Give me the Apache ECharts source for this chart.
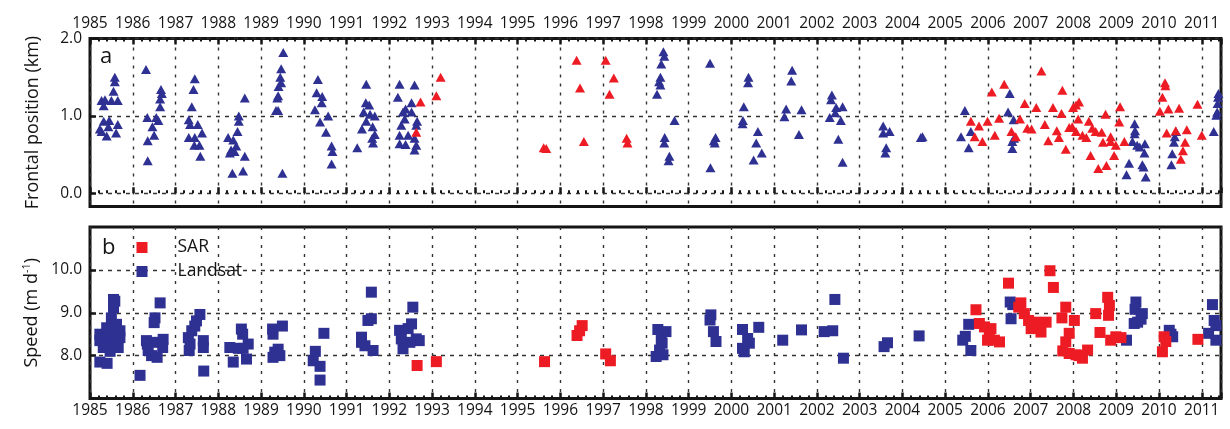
<!DOCTYPE html>
<html><head><meta charset="utf-8">
<script src="https://cdn.jsdelivr.net/npm/echarts@6/dist/echarts.min.js"></script>
<style>html,body{margin:0;padding:0;background:#fff}#c{width:1230px;height:429px}</style>
</head><body><div id="c"></div>
<script>
// ---- data ----
const yearMin = 1985;
const yearMax = 2011.45;
const frontTickValues = [0, 1, 2];
const speedTickValues = [8, 9, 10];

const frontLandsat = [
 [1985.27,1.20],[1985.35,1.21],[1985.32,1.13],[1985.55,1.32],[1985.58,1.50],[1985.58,1.44],[1985.5,1.20],[1985.65,1.20],
 [1985.32,0.93],[1985.45,0.94],[1985.23,0.83],[1985.27,0.80],[1985.43,0.86],[1985.39,0.74],[1985.61,0.78],[1985.65,0.89],
 [1986.31,1.60],[1986.66,1.34],[1986.68,1.29],[1986.64,1.22],[1986.64,1.12],[1986.34,0.98],[1986.55,0.98],[1986.46,0.86],
 [1986.5,0.75],[1986.35,0.68],[1986.35,0.42],[1986.6,0.94],
 [1987.45,1.48],[1987.42,1.34],[1987.38,1.12],[1987.31,0.95],[1987.34,0.89],[1987.52,0.89],[1987.31,0.72],[1987.45,0.72],
 [1987.62,0.78],[1987.56,0.62],[1987.44,0.62],[1987.58,0.48],
 [1988.23,0.72],[1988.35,0.69],[1988.42,0.61],[1988.3,0.56],[1988.27,0.52],[1988.38,0.54],[1988.48,1.0],[1988.48,0.93],
 [1988.45,0.80],[1988.62,1.23],[1988.62,0.48],[1988.33,0.26],[1988.58,0.29],
 [1989.52,1.82],[1989.47,1.61],[1989.45,1.50],[1989.47,1.43],[1989.41,1.38],[1989.4,1.26],[1989.38,1.23],[1989.35,1.07],
 [1989.4,1.07],[1989.5,0.26],
 [1990.33,1.47],[1990.30,1.30],[1990.43,1.25],[1990.42,1.17],[1990.26,1.08],[1990.57,1.00],[1990.38,0.92],[1990.52,0.79],
 [1990.65,0.61],[1990.67,0.54],[1990.65,0.38],
 [1991.46,1.41],[1991.45,1.17],[1991.53,1.14],[1991.4,1.05],[1991.55,1.02],[1991.66,1.0],[1991.46,0.93],[1991.61,0.86],
 [1991.36,0.83],[1991.66,0.76],[1991.6,0.71],[1991.62,0.65],[1991.25,0.59],
 [1992.24,1.41],[1992.59,1.40],[1992.2,1.24],[1992.52,1.17],[1992.38,1.09],[1992.32,1.05],[1992.52,1.05],[1992.36,0.96],
 [1992.65,0.93],[1992.28,0.88],[1992.63,0.88],[1992.24,0.75],[1992.44,0.75],[1992.24,0.64],[1992.38,0.63],[1992.59,0.71],
 [1992.63,0.62],[1992.59,0.56],
 [1998.41,1.83],[1998.43,1.77],[1998.36,1.67],[1998.34,1.50],[1998.31,1.44],[1998.34,1.40],[1998.26,1.28],[1998.67,0.94],
 [1998.44,0.72],[1998.43,0.65],[1998.55,0.48],[1998.53,0.42],
 [1999.5,1.68],[1999.63,0.72],[1999.59,0.68],[1999.61,0.65],[1999.51,0.33],
 [2000.4,1.50],[2000.39,1.43],[2000.29,1.12],[2000.27,0.94],[2000.26,0.90],[2000.62,0.80],[2000.58,0.65],[2000.71,0.52],[2000.52,0.43],
 [2001.42,1.59],[2001.40,1.45],[2001.28,1.09],[2001.24,0.99],[2001.64,1.08],[2001.58,0.76],
 [2002.35,1.27],[2002.33,1.21],[2002.45,1.11],[2002.6,1.12],[2002.43,1.04],[2002.3,0.98],[2002.56,0.94],[2002.5,0.70],[2002.6,0.40],
 [2003.55,0.87],[2003.55,0.78],[2003.7,0.80],[2003.62,0.59],[2003.6,0.52],
 [2004.43,0.72],[2004.47,0.73],
 [2005.46,1.07],[2005.37,0.73],[2005.6,0.80],[2005.55,0.59],
 [2006.51,1.29],[2006.47,1.05],[2006.6,0.95],[2006.61,0.71],[2006.57,0.67],[2006.57,0.58],
 [2009.43,0.90],[2009.44,0.81],[2009.43,0.77],[2009.38,0.67],[2009.49,0.62],[2009.67,0.64],[2009.66,0.52],[2009.3,0.39],
 [2009.24,0.24],[2009.61,0.37],[2009.64,0.34],[2009.69,0.21],[2009.55,0.60],
 [2010.40,0.80],[2010.37,0.73],[2010.35,0.66],[2010.31,0.51],[2010.29,0.37],
 [2011.28,0.80],[2011.34,1.01],[2011.36,1.05],[2011.37,1.16],[2011.38,1.24],[2011.39,1.29]
];

const frontSAR = [
 [1992.73,1.18],[1992.63,0.79],
 [1993.2,1.50],[1993.1,1.26],
 [1995.61,0.59],[1995.67,0.58],
 [1996.38,1.72],[1996.46,1.36],[1996.55,0.67],
 [1997.06,1.72],[1997.25,1.49],[1997.15,1.28],[1997.55,0.71],[1997.57,0.65],
 [2005.6,0.93],[2005.79,0.87],[2005.69,0.73],[2005.87,0.67],[2005.99,0.93],
 [2006.09,1.31],[2006.38,1.41],[2006.26,0.97],[2006.16,0.75],[2006.55,0.80],[2006.65,0.73],[2006.75,0.96],
 [2006.86,1.16],[2007.13,1.11],[2007.25,1.58],[2006.92,0.84],[2007.02,0.83],[2007.33,0.89],[2007.41,0.68],[2007.52,1.11],
 [2007.61,0.81],[2007.66,0.72],[2007.72,1.03],[2007.74,1.33],[2007.82,0.57],[2007.9,0.85],
 [2007.99,1.11],[2008.13,1.18],[2008.06,1.14],[2007.97,0.86],[2008.06,0.80],[2008.11,0.96],[2008.21,0.75],[2008.3,0.72],
 [2008.36,0.93],[2008.44,0.84],[2008.52,0.80],[2008.4,0.49],[2008.58,0.32],[2008.77,0.36],[2008.66,0.79],[2008.75,1.02],
 [2008.69,0.66],[2008.87,0.73],[2008.87,0.67],[2008.95,0.49],[2008.99,0.62],[2009.07,0.92],[2009.09,1.12],[2009.19,0.67],
 [2010.14,1.43],[2010.15,1.39],[2010.08,1.24],[2010.02,1.06],[2010.22,1.09],[2010.47,1.10],[2010.18,0.78],[2010.39,0.81],
 [2010.65,0.82],[2010.61,0.66],[2010.56,0.55],[2010.51,0.44],
 [2010.9,1.15],[2011.0,0.75]
];

const speedLandsat = [
 [1985.23,7.85],[1985.4,7.82],[1985.55,9.31],[1985.58,9.27],[1985.55,9.12],[1985.5,8.88],[1985.23,8.5],[1985.23,8.35],
 [1985.31,8.19],[1985.39,8.65],[1985.47,8.42],[1985.58,8.58],[1985.66,8.19],[1985.7,8.42],[1985.39,8.31],[1985.55,8.27],
 [1985.62,8.73],[1985.7,8.58],[1985.47,8.1],
 [1986.64,9.23],[1986.52,8.88],[1986.5,8.77],[1986.32,8.35],[1986.34,8.27],[1986.56,8.31],[1986.71,8.38],[1986.7,8.19],
 [1986.36,8.12],[1986.57,7.96],[1986.17,7.54],[1986.44,8.0],
 [1987.57,8.96],[1987.49,8.81],[1987.45,8.69],[1987.38,8.58],[1987.3,8.42],[1987.34,8.27],[1987.32,8.12],[1987.65,8.35],
 [1987.65,8.19],[1987.66,7.64],
 [1988.27,8.19],[1988.35,7.85],[1988.47,8.17],[1988.54,8.62],[1988.57,8.5],[1988.7,8.27],[1988.66,7.92],[1988.58,8.17],
 [1989.27,8.62],[1989.28,8.5],[1989.5,8.69],[1989.4,8.15],[1989.28,7.96],[1989.44,8.0],[1989.32,8.08],
 [1990.22,7.88],[1990.27,8.1],[1990.47,8.52],[1990.38,7.75],[1990.38,7.43],
 [1991.58,9.48],[1991.5,8.82],[1991.58,8.86],[1991.35,8.43],[1991.43,8.23],[1991.62,8.12],[1991.35,8.31],
 [1992.55,9.13],[1992.52,8.74],[1992.44,8.63],[1992.24,8.59],[1992.28,8.39],[1992.32,8.16],[1992.63,8.39],[1992.7,8.35],[1992.48,8.31],
 [1998.28,8.61],[1998.47,8.56],[1998.36,8.36],[1998.38,8.29],[1998.32,8.13],[1998.24,7.98],[1998.4,8.02],
 [1999.52,8.95],[1999.5,8.83],[1999.58,8.56],[1999.64,8.33],
 [2000.26,8.61],[2000.26,8.17],[2000.38,8.4],[2000.42,8.29],[2000.3,8.09],[2000.64,8.66],
 [2001.2,8.36],[2001.64,8.6],
 [2002.17,8.56],[2002.37,8.58],[2002.42,9.31],[2002.62,7.94],
 [2003.57,8.21],[2003.65,8.3],
 [2004.39,8.46],
 [2005.41,8.36],[2005.55,8.73],[2005.6,8.12],[2005.47,8.45],
 [2006.52,9.25],[2006.54,8.86],[2006.58,9.19],
 [2009.24,8.36],[2009.46,9.25],[2009.44,9.08],[2009.61,8.98],[2009.5,8.78],[2009.42,8.75],[2009.58,8.85],
 [2010.24,8.59],[2010.32,8.44],[2010.28,8.5],
 [2011.25,9.19],[2011.29,8.82],[2011.33,8.7],[2011.16,8.52],[2011.33,8.36]
];

const speedSAR = [
 [1992.65,7.77],[1993.1,7.86],[1995.63,7.86],[1996.39,8.47],[1996.51,8.7],[1996.45,8.58],[1997.06,8.04],[1997.17,7.88],
 [2005.72,9.07],[2005.8,8.75],[2005.92,8.67],[2006.07,8.63],[2005.99,8.36],[2006.15,8.36],[2006.27,8.32],[2006.03,8.48],[2006.48,9.69],
 [2006.77,9.23],[2006.72,9.13],[2006.85,8.98],[2006.95,8.82],[2007.01,8.63],[2007.12,8.78],[2007.24,8.55],[2007.36,8.78],
 [2007.04,8.75],[2007.45,9.98],[2007.53,9.59],[2007.73,8.88],[2007.82,9.13],[2008.02,8.82],[2007.9,8.52],[2007.82,8.32],
 [2007.75,8.11],[2007.9,8.05],[2008.06,8.02],[2008.21,7.94],[2008.33,8.13],[2008.13,8.0],[2008.52,8.98],[2008.62,8.54],
 [2008.8,9.36],[2008.84,9.17],[2008.82,8.94],[2008.87,8.36],[2008.99,8.44],[2009.11,8.42],
 [2010.08,8.09],[2010.12,8.44],[2010.16,8.33],
 [2010.91,8.38]
];

// ---- style ----
const BLUE = '#2e3192', RED = '#ed1c24', INK = '#151515', GRIDC = '#333333';
const FONT = 'Open Sans';

const tickStyle = {show:true, inside:true, length:6, lineStyle:{color:INK, width:2.5}};
const minorStyle = {show:true, splitNumber:5, length:3, lineStyle:{color:INK, width:2}};
const vSplit = {show:true, lineStyle:{color:GRIDC, width:1.4, type:[3,6]}};
const hSplit = {show:true, lineStyle:{color:GRIDC, width:1.4, type:[4,5]}};
const yearLabel = (m) => ({show:true, margin:m, fontFamily:FONT, fontSize:15.5, color:INK,
  formatter: v => Number.isInteger(v) ? String(v) : ''});

const chart = echarts.init(document.getElementById('c'), null, {renderer:'canvas'});
chart.setOption({
  animation:false,
  backgroundColor:'#fff',
  grid:[
    {left:90, top:38.5, width:1131, height:168, show:true, borderColor:INK, borderWidth:3, backgroundColor:'transparent', containLabel:false},
    {left:90, top:227, width:1131, height:171.5, show:true, borderColor:INK, borderWidth:3, backgroundColor:'transparent', containLabel:false}
  ],
  xAxis:[
    {gridIndex:0, type:'value', min:yearMin, max:yearMax, interval:1, position:'bottom',
     axisLine:{show:false}, axisTick:tickStyle, minorTick:minorStyle, axisLabel:{show:false}, splitLine:vSplit},
    {gridIndex:0, type:'value', min:yearMin, max:yearMax, interval:1, position:'top',
     axisLine:{show:false}, axisTick:tickStyle, minorTick:minorStyle, axisLabel:yearLabel(7), splitLine:{show:false}},
    {gridIndex:1, type:'value', min:yearMin, max:yearMax, interval:1, position:'bottom',
     axisLine:{show:false}, axisTick:tickStyle, minorTick:minorStyle, axisLabel:yearLabel(4), splitLine:vSplit}
  ],
  yAxis:[
    {gridIndex:0, type:'value', min:-0.17, max:2.0,
     axisLine:{show:false},
     axisTick:{show:true, inside:true, length:6, lineStyle:{color:INK, width:2.5}, customValues:frontTickValues},
     axisLabel:{show:true, margin:8, fontFamily:FONT, fontSize:15.5, color:INK, customValues:frontTickValues,
       formatter: v => v.toFixed(1)},
     splitLine:hSplit,
     name:'Frontal position (km)', nameLocation:'middle', nameGap:48,
     nameTextStyle:{fontFamily:FONT, fontSize:18, color:INK}},
    {gridIndex:1, type:'value', min:7, max:11,
     axisLine:{show:false},
     axisTick:{show:true, inside:true, length:6, lineStyle:{color:INK, width:2.5}, customValues:speedTickValues},
     axisLabel:{show:true, margin:8, fontFamily:FONT, fontSize:15.5, color:INK, customValues:speedTickValues,
       formatter: v => v.toFixed(1)},
     splitLine:hSplit,
     name:'Speed (m d{sup|-1})', nameLocation:'middle', nameGap:48,
     nameTextStyle:{fontFamily:FONT, fontSize:18, color:INK,
       rich:{sup:{fontFamily:FONT, fontSize:11, color:INK, verticalAlign:'top', padding:[0,0,9,0]}}}}
  ],
  legend:{
    show:true, orient:'vertical', left:131.5, top:233.5, itemWidth:11, itemHeight:11, itemGap:6,
    selectedMode:false,
    textStyle:{fontFamily:FONT, fontSize:17.5, color:INK, lineHeight:12, padding:[0,0,0,25]},
    data:[{name:'SAR', icon:'rect'}, {name:'Landsat', icon:'rect'}]
  },
  graphic:[
    {type:'text', style:{text:'a', x:100, y:56.5, verticalAlign:'middle', font:'22px "Open Sans"', fill:INK}},
    {type:'text', style:{text:'b', x:102, y:248, verticalAlign:'middle', font:'22px "Open Sans"', fill:INK}}
  ],
  series:[
    {type:'scatter', name:'Landsat', xAxisIndex:0, yAxisIndex:0, data:frontLandsat,
     symbol:'triangle', symbolSize:[10,9], itemStyle:{color:BLUE, opacity:1}, silent:true},
    {type:'scatter', name:'SAR', xAxisIndex:0, yAxisIndex:0, data:frontSAR,
     symbol:'triangle', symbolSize:[10,9], itemStyle:{color:RED, opacity:1}, silent:true},
    {type:'scatter', name:'Landsat', xAxisIndex:2, yAxisIndex:1, data:speedLandsat,
     symbol:'rect', symbolSize:11, itemStyle:{color:BLUE, opacity:1}, silent:true},
    {type:'scatter', name:'SAR', xAxisIndex:2, yAxisIndex:1, data:speedSAR,
     symbol:'rect', symbolSize:11, itemStyle:{color:RED, opacity:1}, silent:true}
  ]
});
</script>
</body></html>
